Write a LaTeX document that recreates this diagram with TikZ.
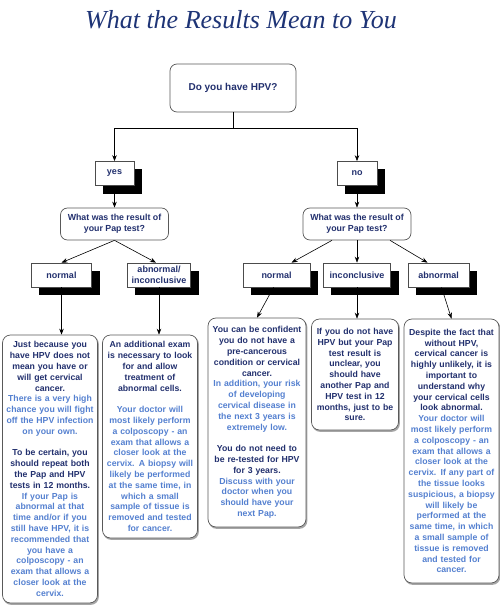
\documentclass[tikz,border=0pt]{standalone}
\usepackage{fontspec}
\setmainfont{Liberation Sans}
\newfontfamily\titlefont{Liberation Serif}
\usetikzlibrary{positioning, arrows.meta, backgrounds}

\definecolor{hpvdark}{RGB}{34,48,110}
\definecolor{hpvlight}{RGB}{84,128,208}
\definecolor{hpvtitle}{RGB}{30,52,118}
\newcommand{\darktxt}{\color{hpvdark}}
\newcommand{\lighttxt}{\color{hpvlight}}

\begin{document}
\begin{tikzpicture}[x=1pt, y=-1pt, on grid,
    font=\bfseries\fontsize{8.7}{10.8}\selectfont,
    arr/.style={-{Stealth[length=6pt,width=4.5pt]}, line width=0.6pt},
    start/.style={draw=black!65, line width=0.7pt, rounded corners=7pt, fill=white,
        text=hpvdark, minimum width=126pt, minimum height=48pt,
        font=\bfseries\fontsize{10}{12}\selectfont},
    question/.style={draw=black!65, line width=0.7pt, rounded corners=7pt, fill=white,
        text=hpvdark, align=center, minimum width=108pt, minimum height=32pt,
        inner sep=1pt, font=\bfseries\fontsize{8.8}{11}\selectfont},
    choice/.style={draw=black!70, line width=0.7pt, fill=white, text=hpvdark,
        align=center, minimum height=24pt, inner sep=1pt,
        font=\bfseries\fontsize{9}{10.5}\selectfont},
    answer/.style={draw=black!65, line width=0.7pt, rounded corners=8pt, fill=white,
        inner sep=2pt, align=center},
    boxshadow/.style={fill=black},
    softshadow/.style={fill=black!35, rounded corners=8pt}]
    \useasboundingbox (0,0) rectangle (500,607);

    % title
    \node[font=\titlefont\itshape\fontsize{26}{30}\selectfont, text=hpvtitle, anchor=base]
        (title) at (241,29) {What the Results Mean to You};

    % first question
    \node[start] (q0) at (233,88) {Do you have HPV?};
    \coordinate[below=16pt of q0.south] (fork);

    \node[choice, minimum width=39pt] (yes) [below left=85.5pt and 118.5pt of q0] {yes};
    \node[choice, minimum width=40pt] (no) [below right=85.5pt and 124pt of q0] {no};

    % pap test questions
    \node[question] (papL) [below=50.5pt of yes] {What was the result of\\your Pap test?};
    \node[question] (papR) [below=50.5pt of no] {What was the result of\\your Pap test?};

    \node[choice, minimum width=60pt] (normL) [below left=51pt and 53pt of papL] {normal};
    \node[choice, minimum width=63pt] (abincL) [below right=51pt and 44.5pt of papL] {abnormal/\\inconclusive};
    \node[choice, minimum width=67pt] (normR) [below left=51pt and 80.5pt of papR] {normal};
    \node[choice, minimum width=67pt] (incR) [below=51pt of papR] {inconclusive};
    \node[choice, minimum width=61pt] (abnR) [below right=51pt and 81.5pt of papR] {abnormal};

    % answers
    \node[answer, text width=91pt, minimum height=268pt] (ansNormL) [below left=194pt and 11.5pt of normL]
        {\darktxt Just because you\\ have HPV does not\\ mean you have or\\ will get cervical\\ cancer.\\
         \lighttxt There is a very high\\ chance you will fight\\ off the HPV infection\\ on your own.\\[10.8pt]
         \darktxt To be certain, you\\ should repeat both\\ the Pap and HPV\\ tests in 12 months.\\
         \lighttxt If your Pap is\\ abnormal at that\\ time and/or if you\\ still have HPV, it is\\ recommended that\\
         you have a\\ colposcopy - an\\ exam that allows a\\ closer look at the\\ cervix.};
    \node[answer, text width=91pt, minimum height=203pt] (ansAbincL) [below left=161.5pt and 9pt of abincL]
        {\darktxt An additional exam\\ is necessary to look\\ for and allow\\ treatment of\\ abnormal cells.\\[10.8pt]
         \lighttxt Your doctor will\\ most likely perform\\ a colposcopy - an\\ exam that allows a\\ closer look at the\\
         cervix. A biopsy will\\ likely be performed\\ at the same time, in\\ which a small\\ sample of tissue is\\
         removed and tested\\ for cancer.};
    \node[answer, text width=94pt, minimum height=209pt] (ansNormR) [below left=147.5pt and 19.5pt of normR]
        {\darktxt You can be confident\\ you do not have a\\ pre-cancerous\\ condition or cervical\\ cancer.\\
         \lighttxt In addition, your risk\\ of developing\\ cervical disease in\\ the next 3 years is\\ extremely low.\\[10.8pt]
         \darktxt You do not need to\\ be re-tested for HPV\\ for 3 years.\\
         \lighttxt Discuss with your\\ doctor when you\\ should have your\\ next Pap.};
    \node[answer, text width=83pt, minimum height=111pt] (ansIncR) [below left=99.5pt and 2pt of incR]
        {\darktxt If you do not have\\ HPV but your Pap\\ test result is\\ unclear, you\\ should have\\
         another Pap and\\ HPV test in 12\\ months, just to be\\ sure.};
    \node[answer, text width=91pt, minimum height=264pt] (ansAbnR) [below right=176pt and 13pt of abnR]
        {\darktxt Despite the fact that\\ without HPV,\\ cervical cancer is\\ highly unlikely, it is\\ important to\\
         understand why\\ your cervical cells\\ look abnormal.\\
         \lighttxt Your doctor will\\ most likely perform\\ a colposcopy - an\\ exam that allows a\\ closer look at the\\
         cervix. If any part of\\ the tissue looks\\ suspicious, a biopsy\\ will likely be\\ performed at the\\
         same time, in which\\ a small sample of\\ tissue is removed\\ and tested for\\ cancer.};

    % shadows
    \begin{scope}[on background layer]
        \foreach \n in {yes, no, normL, abincL, normR, incR, abnR}
            \fill[boxshadow] ([xshift=8pt, yshift=-8pt]\n.north west) rectangle ([xshift=8pt, yshift=-8pt]\n.south east);
        \foreach \n in {ansNormL, ansAbincL, ansNormR, ansIncR, ansAbnR}
            \fill[softshadow] ([xshift=1pt, yshift=-1.5pt]\n.north west) rectangle ([xshift=1pt, yshift=-1.5pt]\n.south east);
    \end{scope}

    % connectors
    \draw[arr] (q0.south) -- (fork) -| (yes.north);
    \draw[arr] (fork) -| (no.north);
    \draw[arr] (yes.south) -- (yes.south |- papL.north);
    \draw[arr] (no.south) -- (papR.north);
    \draw[arr] (papL.south) -- (normL.north);
    \draw[arr] (papL.south) -- ([xshift=-3pt]abincL.north);
    \draw[arr] ([xshift=-25pt]papR.south) -- ([xshift=15pt]normR.north);
    \draw[arr] (papR.south) -- (papR.south |- incR.north);
    \draw[arr] ([xshift=33pt]papR.south) -- ([xshift=-11pt]abnR.north);
    \draw[arr] (normL.south) -- (normL.south |- ansNormL.north);
    \draw[arr] (abincL.south) -- (abincL.south |- ansAbincL.north);
    \draw[arr] ([xshift=-3pt]normR.south) -- (ansNormR.north);
    \draw[arr] (incR.south) -- (incR.south |- ansIncR.north);
    \draw[arr] ([xshift=3pt]abnR.south) -- (ansAbnR.north);
\end{tikzpicture}
\end{document}
